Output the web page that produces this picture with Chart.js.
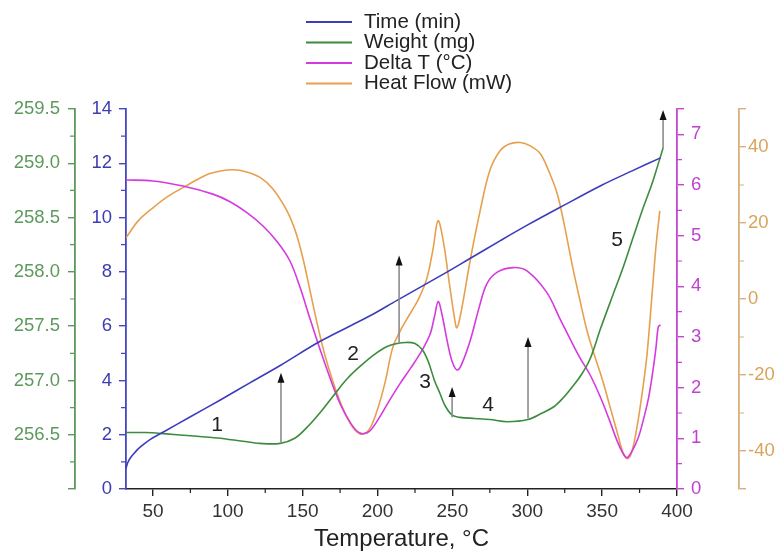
<!DOCTYPE html>
<html>
<head>
<meta charset="utf-8">
<script src="https://cdn.jsdelivr.net/npm/chart.js@4.4.1/dist/chart.umd.min.js"></script>
<style>
html,body{margin:0;padding:0;background:#fff}
#wrap{width:782px;height:554px;position:relative}
</style>
</head>
<body>
<div id="wrap"><canvas id="canvas"></canvas></div>
<script>
// temperature (°C) / value pairs
let timeT=[32,33,35,38,41.4,48,57,75,95,115,135,162,195,213,246,262,282,300,322,350,370,389]
let timeV=[0.75,0.95,1.15,1.35,1.54,1.82,2.1,2.66,3.28,3.92,4.55,5.45,6.38,6.95,7.98,8.5,9.15,9.72,10.38,11.2,11.72,12.2]

let weightT=[32,45,57,75,93,110,121.5,135,145,153,162,170,180,190,198,206,213,219,225,230,234,238,241.7,245,249.8,255,265,275,286.5,300.5,310,318,324,330,336,342,349,357,364,371,377.4,383,386.7,390.7]
let weightV=[256.52,256.52,256.51,256.49,256.47,256.44,256.42,256.42,256.47,256.57,256.71,256.85,257.02,257.15,257.24,257.31,257.34,257.35,257.34,257.28,257.17,257.0,256.88,256.77,256.68,256.66,256.65,256.64,256.62,256.64,256.7,256.76,256.84,256.94,257.05,257.2,257.48,257.78,258.04,258.33,258.59,258.8,258.96,259.14]

let deltaT=[32,50,70,90,101.5,113,123.5,133,141.5,148,155,162,170,176,182,186,190,195,201,208,215,222,229,235,238,240.5,243,247,250,253,256,262,268,273,280,290.5,300,313,322,329,335,342,349,355,360,364,366.7,370,374,377.4,381,384,386,387.5,389]
let deltaV=[6.10,6.08,5.98,5.82,5.67,5.45,5.19,4.88,4.5,4.0,3.35,2.72,2.05,1.62,1.3,1.15,1.09,1.15,1.4,1.75,2.08,2.38,2.7,3.05,3.4,3.70,3.45,2.85,2.5,2.35,2.45,2.94,3.6,4.05,4.28,4.37,4.3,3.88,3.35,2.94,2.6,2.25,1.8,1.35,0.95,0.7,0.62,0.75,1.0,1.35,1.8,2.35,2.8,3.2,3.24]

let heatT=[32,40,50,60,70,80,88,95,103.5,112,121.5,130,139.5,145,150,155,160,165,170,175,180,185,190,195,200,205,210,215,220,224,228,233,237,240.4,244,248,251,253,256,261.8,268.5,275,281.8,288,295.2,302,308.6,314,320,325,330,335,340,345,350,355,360,364,367,370,374,377,380,383.5,386,388.5]
let heatV=[16.1,20.5,24,27,29.3,31.5,33,33.7,34,33.5,32,29,23.2,18,11,2,-7,-15,-21.5,-27,-31.5,-34.5,-35.6,-34,-29,-22,-13,-8.5,-5,-2.4,0.5,5.5,13,20.6,15,4,-4,-7.6,-3,10,23.2,33.8,39,40.8,41.2,40.3,38.3,34,27.7,19,9,0,-8.5,-15,-21,-28,-35,-40.5,-42,-40,-32,-24,-14.5,2,14,23.2]

// axis ticks
let tempTicks=[50,100,150,200,250,300,350,400]
let timeTicks=[0,2,4,6,8,10,12,14]
let weightTicks=[256.0,256.5,257.0,257.5,258.0,258.5,259.0,259.5]
let deltaTicks=[0,1,2,3,4,5,6,7,7.5]
let heatTicks=[-50,-40,-20,0,20,40,50]

// arrows and step numbers, placed in temperature / weight units
let arrowT=[135.5,214.4,249.8,300.5,390.7]
let arrowFrom=[256.43,257.34,256.66,256.65,259.14]
let arrowTo=[257.07,258.15,256.94,257.40,259.49]
let stepT=[92.8,183.6,231.7,273.8,360]
let stepW=[256.59,257.24,256.98,256.77,258.29]
let stepText=['1','2','3','4','5']

let canvas=document.getElementById('canvas')
let FONT='"Liberation Sans", Arial, sans-serif'
Chart.defaults.font.family=FONT

function pts(t,v){
    return t.map((x,i)=>({x:x,y:v[i]}))
}
function setTicks(list){
    return function(s){ s.ticks=list.map(v=>({value:v})) }
}

let minor={
    x:[75,125,175,225,275,325,375],
    yTime:[1,3,5,7,9,11,13],
    yWeight:[256.25,256.75,257.25,257.75,258.25,258.75,259.25],
    yDelta:[0.5,1.5,2.5,3.5,4.5,5.5,6.5],
    yHeat:[-30,-10,10,30]
}

let minorPlugin={
    id:'minor',
    afterDraw(chart){
        let ctx=chart.ctx
        for (let id in minor){
            let s=chart.scales[id]
            ctx.save()
            ctx.strokeStyle=s.options.border.color
            ctx.lineWidth=1.2
            ctx.beginPath()
            minor[id].forEach(v=>{
                let p=s.getPixelForValue(v)
                if (id==='x'){ ctx.moveTo(p,s.top); ctx.lineTo(p,s.top+4) }
                else if (s.position==='left'){ ctx.moveTo(s.right,p); ctx.lineTo(s.right-5,p) }
                else { ctx.moveTo(s.left,p); ctx.lineTo(s.left+5,p) }
            })
            ctx.stroke()
            ctx.restore()
        }
    }
}

let notePlugin={
    id:'notes',
    afterDatasetsDraw(chart){
        let ctx=chart.ctx
        let sx=chart.scales.x, sy=chart.scales.yWeight
        ctx.save()
        arrowT.forEach((t,i)=>{
            let x=sx.getPixelForValue(t)
            let y0=sy.getPixelForValue(arrowFrom[i])
            let y1=sy.getPixelForValue(arrowTo[i])
            ctx.strokeStyle='#8c8c8c'
            ctx.lineWidth=1.6
            ctx.beginPath(); ctx.moveTo(x,y0); ctx.lineTo(x,y1+8); ctx.stroke()
            ctx.fillStyle='#111'
            ctx.beginPath(); ctx.moveTo(x,y1); ctx.lineTo(x-3.5,y1+10); ctx.lineTo(x+3.5,y1+10); ctx.closePath(); ctx.fill()
        })
        ctx.fillStyle='#222'
        ctx.font='21px '+FONT
        ctx.textAlign='center'
        ctx.textBaseline='middle'
        stepT.forEach((t,i)=>{
            ctx.fillText(stepText[i],sx.getPixelForValue(t),sy.getPixelForValue(stepW[i]))
        })
        ctx.restore()
    }
}

let legendPlugin={
    id:'vlegend',
    afterDraw(chart){
        let ctx=chart.ctx
        ctx.save()
        ctx.font='20.5px '+FONT
        ctx.textBaseline='middle'
        ctx.fillStyle='#222'
        chart.data.datasets.forEach((d,i)=>{
            let y=22+i*20.5
            ctx.strokeStyle=d.borderColor
            ctx.lineWidth=2
            ctx.beginPath(); ctx.moveTo(306,y); ctx.lineTo(352,y); ctx.stroke()
            ctx.fillText(d.label,364,y)
        })
        ctx.restore()
    }
}

function yAxis(pos,weight,col,lab,list,width,pad,fmt){
    return {
        type:'linear', position:pos, weight:weight,
        min:list[0], max:list[list.length-1],
        afterBuildTicks:setTicks(list),
        afterFit:function(s){ s.width=width },
        grid:{drawOnChartArea:false, tickLength:7, color:col, lineWidth:1.4},
        border:{display:true, color:col, width:1.8},
        ticks:{color:lab, font:{size:18.5}, padding:pad, callback:fmt}
    }
}

new Chart(canvas,{
    type:'line',
    data:{
        datasets:[
            {label:'Time (min)', data:pts(timeT,timeV), borderColor:'#3c3cbc', yAxisID:'yTime'},
            {label:'Weight (mg)', data:pts(weightT,weightV), borderColor:'#3d8c3d', yAxisID:'yWeight'},
            {label:'Delta T (°C)', data:pts(deltaT,deltaV), borderColor:'#d63ade', yAxisID:'yDelta'},
            {label:'Heat Flow (mW)', data:pts(heatT,heatV), borderColor:'#e6a04e', yAxisID:'yHeat'}
        ]
    },
    options:{
        responsive:true,
        maintainAspectRatio:false,
        animation:false,
        layout:{padding:{top:109,left:0,right:0,bottom:0}},
        elements:{
            point:{radius:0},
            line:{borderWidth:1.6, tension:0.35, fill:false}
        },
        plugins:{legend:{display:false}, tooltip:{enabled:false}},
        scales:{
            x:{
                type:'linear', min:32, max:400,
                afterBuildTicks:setTicks(tempTicks),
                afterFit:function(s){ s.height=65 },
                grid:{drawOnChartArea:false, tickLength:7, color:'#222', lineWidth:1.4},
                border:{display:true, color:'#222', width:1.6},
                ticks:{color:'#333', font:{size:19}, padding:4, maxRotation:0},
                title:{display:true, text:'Temperature, °C', color:'#222', font:{size:24}, padding:{top:0,bottom:0}}
            },
            yTime:yAxis('left',1,'#4646c0','#3c3cb4',timeTicks,51,7,v=>String(v)),
            yWeight:yAxis('left',2,'#5c985c','#5c9a5c',weightTicks,75,8,v=>v===256?'':v.toFixed(1)),
            yDelta:yAxis('right',1,'#c545d4','#c040d0',deltaTicks,62,7,v=>v===7.5?'':String(v)),
            yHeat:yAxis('right',2,'#d9b07c','#d9a35a',heatTicks,43,2,v=>Math.abs(v)===50?'':String(v))
        }
    },
    plugins:[minorPlugin,notePlugin,legendPlugin]
})
</script>
</body>
</html>
